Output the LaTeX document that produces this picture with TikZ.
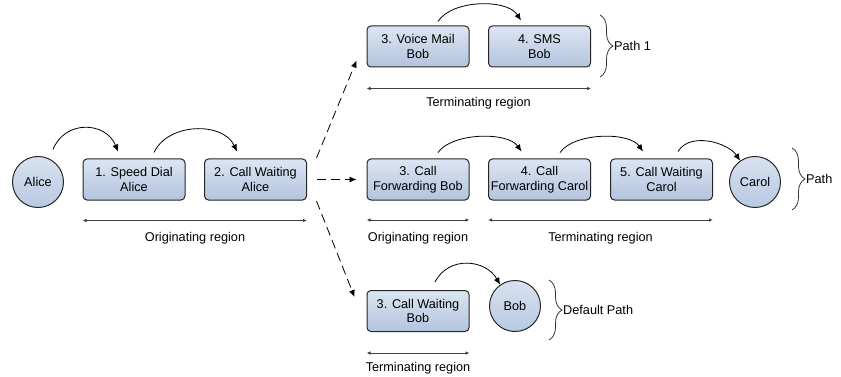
\documentclass[tikz,border=0pt]{standalone}
\usepackage{fontspec}
\setmainfont{Liberation Sans}
\usetikzlibrary{arrows.meta,decorations.pathreplacing,calc}

\definecolor{boxtop}{HTML}{DCE5F2}
\definecolor{boxbot}{HTML}{B3C4DE}
\definecolor{discTop}{HTML}{D8E2F0}
\definecolor{discBot}{HTML}{B8C9E2}
\definecolor{edge}{HTML}{262626}

\begin{document}
\begin{tikzpicture}[x=1pt,y=-1pt,
  font=\fontsize{12.7}{14.5}\selectfont,
  feat/.style={draw=edge, line width=1pt, rounded corners=4pt,
    top color=boxtop, bottom color=boxbot,
    minimum width=102pt, minimum height=41pt, inner sep=0pt, align=center},
  party/.style={circle, draw=edge, line width=1pt,
    top color=discTop, bottom color=discBot,
    minimum size=51pt, inner sep=0pt},
  flow/.style={-{Latex[length=7pt,width=6pt]}, line width=0.8pt},
  jump/.style={flow, dash pattern=on 9pt off 5pt},
  span/.style={{Latex[length=4pt,width=3.5pt]}-{Latex[length=4pt,width=3.5pt]},
    line width=0.8pt, draw=black!75},
  bracket/.style={decorate, decoration={brace, amplitude=13pt},
    line width=0.8pt, draw=black!80},
  caption/.style={anchor=base}
  ]
\useasboundingbox (0,0) rectangle (841,377);

% calling side
\node[party] (alice) at (38,182) {Alice};
\node[feat] (sd) at (134,179.5) {1. Speed Dial\\Alice};
\node[feat] (cw) at (255.5,179.5) {2. Call Waiting\\Alice};

% path 1
\node[feat] (vm)  at (418,46.5)  {3. Voice Mail\\Bob};
\node[feat] (sms) at (539.5,46.5) {4. SMS\\Bob};

% path
\node[feat] (cfb) at (418,179.5)   {3. Call\\Forwarding Bob};
\node[feat] (cfc) at (539.5,179.5) {4. Call\\Forwarding Carol};
\node[feat] (cwc) at (661.5,179.5) {5. Call Waiting\\Carol};
\node[party] (carol) at (755,182) {Carol};

% default path
\node[feat] (cwb) at (418,311) {3. Call Waiting\\Bob};
\node[party] (bob) at (515,306) {Bob};

% feature chaining
\draw[flow] ([xshift=15pt,yshift=6.5pt]alice.north) .. controls +(12,-30) and +(-12,-30) .. ([xshift=-16pt,yshift=7pt]sd.north);
\draw[flow] ([xshift=20pt,yshift=6pt]sd.north) .. controls +(14,-30) and +(-14,-30) .. ([xshift=-18.5pt,yshift=7pt]cw.north);

\draw[flow] ([xshift=20pt,yshift=4pt]vm.north) .. controls +(14,-22) and +(-14,-22) .. ([xshift=-18.5pt,yshift=5pt]sms.north);

\draw[flow] ([xshift=20pt,yshift=6pt]cfb.north) .. controls +(14,-20) and +(-14,-20) .. ([xshift=-18pt,yshift=7pt]cfc.north);
\draw[flow] ([xshift=20.5pt,yshift=6pt]cfc.north) .. controls +(14,-20) and +(-14,-20) .. ([xshift=-18.5pt,yshift=7pt]cwc.north);
\draw[flow] ([xshift=16.5pt,yshift=7pt]cwc.north) .. controls +(12,-20) and +(-12,-18) .. (carol.125);

\draw[flow] ([xshift=17pt,yshift=8pt]cwb.north) .. controls +(14,-27) and +(-14,-25) .. (bob.125);

% branching to the three paths
\draw[jump] ([xshift=9.5pt,yshift=21.5pt]cw.east) -- ([xshift=-10pt,yshift=7pt]vm.south west);
\draw[jump] ([xshift=10pt]cw.east) -- ([xshift=-10pt]cfb.west);
\draw[jump] ([xshift=9.5pt,yshift=-21.5pt]cw.east) -- ([xshift=-12pt,yshift=-7pt]cwb.north west);

% regions
\draw[span] ($(sd.south west)+(0,20)$) -- ($(cw.south east)+(0,20)$);
\node[caption] (orig1) at (195,241) {Originating region};

\draw[span] ($(vm.south west)+(0,21)$) -- ($(sms.south east)+(0,21)$);
\node[caption] (term1) at (478.5,107) {Terminating region};

\draw[span] ($(cfb.south west)+(0,19.5)$) -- ($(cfb.south east)+(0,19.5)$);
\node[caption] (orig2) at (418,241) {Originating region};
\draw[span] ($(cfc.south west)+(0,19.5)$) -- ($(cwc.south east)+(0,19.5)$);
\node[caption] (term2) at (600.5,241) {Terminating region};

\draw[span] ($(cwb.south west)+(0,21)$) -- ($(cwb.south east)+(0,21)$);
\node[caption] (term3) at (418,371) {Terminating region};

% path braces
\draw[bracket] (600,15) -- (600,77);
\node[anchor=west, inner sep=1pt] (p1) at (613,46) {Path 1};
\draw[bracket] (792,148) -- (792,210);
\node[anchor=west, inner sep=1pt] (p2) at (805,179) {Path};
\draw[bracket] (549,280) -- (549,340);
\node[anchor=west, inner sep=1pt] (p3) at (562,310) {Default Path};
\end{tikzpicture}
\end{document}
